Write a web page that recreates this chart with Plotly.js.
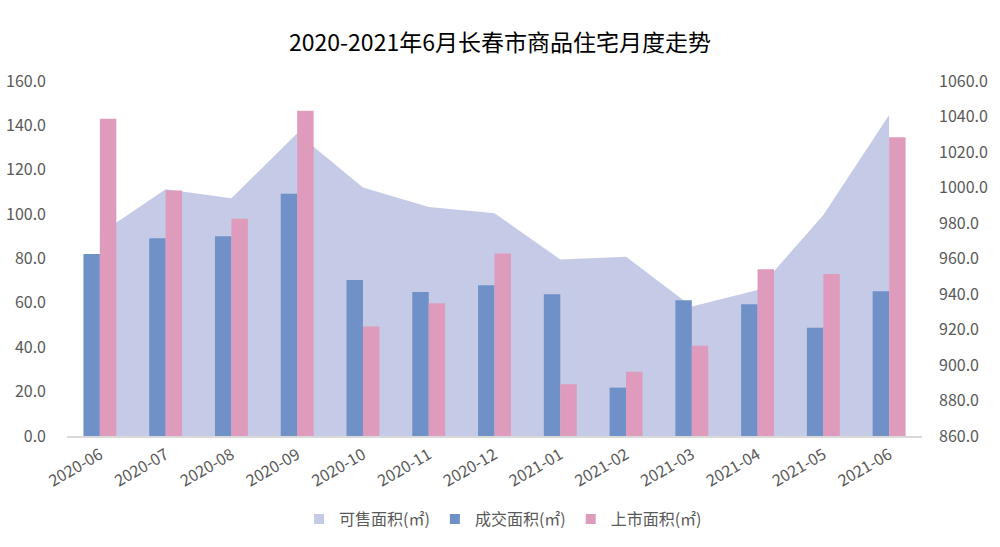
<!DOCTYPE html>
<html>
<head>
<meta charset="utf-8">
<script src="https://cdn.plot.ly/plotly-3.0.1.min.js"></script>
<style>html,body{margin:0;padding:0;background:#fff;}#chart{width:1000px;height:547px;}</style>
</head>
<body>
<div id="chart"></div>
<script>
const months = ["2020-06","2020-07","2020-08","2020-09","2020-10","2020-11","2020-12","2021-01","2021-02","2021-03","2021-04","2021-05","2021-06"];
const available = [974, 999, 994, 1030.5, 1000, 989, 985.5, 959.5, 961, 933, 942.3, 984.5, 1040.8];
const traded = [82.0, 89.1, 90.0, 109.2, 70.3, 64.9, 68.0, 63.9, 21.8, 61.2, 59.4, 48.8, 65.2];
const listed = [143.0, 110.7, 97.9, 146.6, 49.3, 59.8, 82.3, 23.3, 29.0, 40.7, 75.1, 73.0, 134.6];
const names = ["可售面积(㎡)", "成交面积(㎡)", "上市面积(㎡)"];
const leftTicks = [0,20,40,60,80,100,120,140,160];
const rightTicks = [860,880,900,920,940,960,980,1000,1020,1040,1060];

const font = "'Noto Sans CJK SC', 'Noto Sans', sans-serif";
const colors = ['#C5CAE6', '#7090C8', '#DE9BBB'];
const traces = [
  {type:'scatter', x:months, y:available, name:names[0], mode:'lines', fill:'tozeroy',
   line:{color:colors[0], width:0}, fillcolor:colors[0], yaxis:'y', showlegend:false},
  {type:'bar', x:months, y:traded, name:names[1], marker:{color:colors[1]}, yaxis:'y2', showlegend:false},
  {type:'bar', x:months, y:listed, name:names[2], marker:{color:colors[2]}, yaxis:'y2', showlegend:false}
];
// legend entries as square markers
names.forEach((n, i) => {
  traces.push({type:'scatter', x:[null], y:[null], name:n, mode:'markers', yaxis:'y2',
    marker:{symbol:'square', size:10, color:colors[i]}, showlegend:true});
});
const layout = {
  width:1000, height:547,
  margin:{l:67, r:78, t:81, b:111, autoexpand:false},
  paper_bgcolor:'#fff', plot_bgcolor:'#fff',
  font:{family:font, color:'#595959', size:16},
  title:{text:'2020-2021年6月长春市商品住宅月度走势', font:{family:font, size:23, color:'#000'}, x:0.5, xanchor:'center', y:0.921, yanchor:'middle'},
  barmode:'group', bargap:0.5, bargroupgap:0,
  showlegend:true,
  legend:{orientation:'h', x:0.51, xanchor:'center', yref:'container', y:0.051, yanchor:'middle', font:{size:16, color:'#595959'}, traceorder:'normal', itemwidth:30, itemclick:false},
  xaxis:{type:'category', tickangle:-30, showgrid:false, showline:true, linecolor:'#D9D9D9', linewidth:1.5, ticks:'', tickfont:{size:16, color:'#595959'}, ticklabelstandoff:2, automargin:false},
  yaxis:{side:'right', range:[860,1060], tickvals:rightTicks, ticktext:rightTicks.map(v=>v.toFixed(1)), showgrid:false, zeroline:false, showline:false, ticks:'', tickfont:{size:16, color:'#595959'}, ticklabelstandoff:16, automargin:false},
  yaxis2:{side:'left', overlaying:'y', range:[0,160], tickvals:leftTicks, ticktext:leftTicks.map(v=>v.toFixed(1)), showgrid:false, zeroline:false, showline:false, ticks:'', tickfont:{size:16, color:'#595959'}, ticklabelstandoff:20, automargin:false}
};
Plotly.newPlot('chart', traces, layout, {displayModeBar:false, staticPlot:true});
</script>
</body>
</html>
